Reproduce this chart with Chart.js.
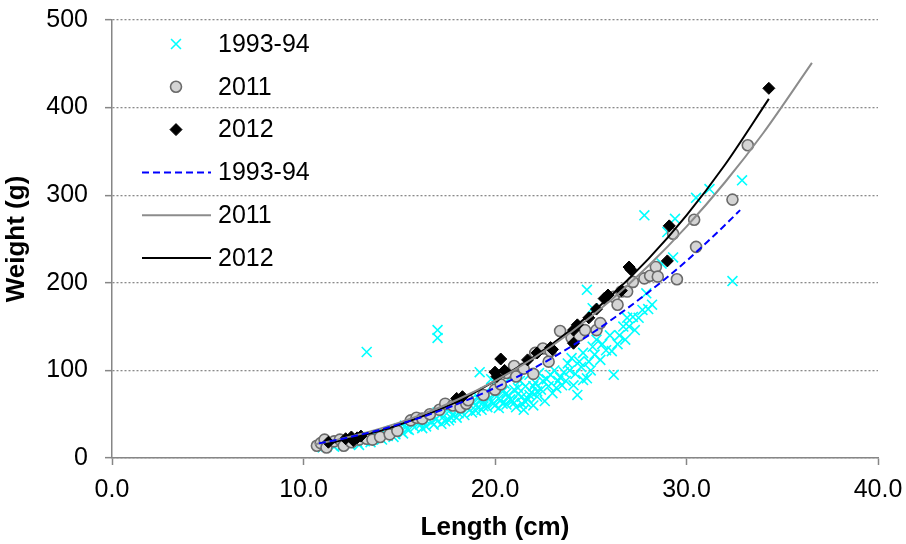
<!DOCTYPE html>
<html>
<head>
<meta charset="utf-8">
<script src="https://cdn.jsdelivr.net/npm/chart.js"></script>
<style>
  html, body { margin: 0; padding: 0; background: #fff; }
  #wrap { width: 906px; height: 544px; }
</style>
</head>
<body>
<div id="wrap"><canvas id="myChart" width="906" height="544"></canvas></div>
<script>
// Length-weight data

// 1993-94 samples (cyan crosses)
const len9394 = [
  11.0, 11.2, 11.5, 11.6, 11.8, 12.0, 12.1, 12.2, 12.4, 12.6, 12.8, 12.9, 13.0, 13.2, 13.4, 13.5, 13.6, 13.8, 14.0, 14.1,
  14.2, 14.4, 14.6, 14.7, 14.8, 15.0, 15.1, 15.2, 15.3, 15.4, 15.5, 15.6, 15.8, 16.0, 16.1, 16.2, 16.3, 16.4, 16.6, 16.7,
  16.8, 16.9, 17.0, 17.2, 17.3, 17.4, 17.5, 17.6, 17.7, 17.8, 17.9, 18.0, 18.1, 18.2, 18.3, 18.4, 18.5, 18.6, 18.7, 18.8,
  18.9, 19.0, 19.0, 19.1, 19.2, 19.2, 19.3, 19.4, 19.4, 19.5, 19.6, 19.6, 19.7, 19.8, 19.8, 19.9, 20.0, 20.0, 20.1, 20.2,
  20.2, 20.3, 20.4, 20.4, 20.5, 20.6, 20.6, 20.7, 20.8, 20.8, 20.9, 21.0, 21.0, 21.1, 21.2, 21.2, 21.3, 21.4, 21.4, 21.5,
  21.6, 21.6, 21.7, 21.8, 21.8, 21.9, 22.0, 22.0, 22.1, 22.2, 22.2, 22.3, 22.4, 22.5, 22.6, 22.7, 22.8, 22.9, 23.0, 23.1,
  23.2, 23.3, 23.4, 23.5, 23.6, 23.7, 23.8, 23.9, 24.0, 24.1, 24.2, 24.3, 24.4, 24.5, 24.6, 24.6, 24.8, 24.8, 24.9, 25.0,
  25.1, 25.1, 25.2, 25.3, 25.5, 25.6, 25.8, 26.0, 26.1, 26.2, 26.4, 26.5, 26.7, 26.8, 26.9, 27.0, 27.2, 27.3, 27.5, 27.7,
  27.8, 27.9, 28.0, 28.2, 28.7, 29.0, 29.3, 29.4, 30.5, 31.2, 32.4, 32.9, 13.3, 17.0, 17.0
];
const wt9394 = [
  12, 13, 15, 13, 17, 14, 16, 19, 16, 21, 18, 15, 22, 19, 24, 18, 21, 26, 23, 21,
  28, 25, 31, 24, 27, 34, 30, 28, 37, 33, 32, 40, 35, 42, 38, 34, 45, 36, 48, 41,
  38, 44, 52, 39, 47, 42, 55, 43, 46, 50, 58, 46, 51, 54, 62, 49, 58, 57, 66, 52,
  63, 60, 54, 70, 98, 66, 55, 64, 59, 75, 58, 72, 68, 90, 64, 62, 72, 60, 80, 57,
  68, 66, 76, 62, 85, 61, 74, 70, 92, 67, 65, 78, 63, 58, 73, 80, 88, 62, 70, 55,
  82, 64, 68, 95, 72, 75, 60, 82, 86, 70, 76, 97, 78, 88, 65, 90, 82, 95, 74, 100,
  80, 88, 92, 83, 98, 88, 108, 100, 114, 83, 96, 72, 110, 104, 120, 89, 91, 192, 110, 100,
  127, 171, 118, 135, 112, 130, 123, 140, 122, 95, 130, 140, 150, 135, 160, 150, 161, 146, 160, 169,
  277, 188, 170, 175, 222, 258, 229, 273, 297, 307, 202, 317, 121, 146, 137
];

// 2011 samples (grey circles)
const len2011 = [
  10.7, 10.9, 11.1, 11.2, 11.6, 11.9, 12.1, 12.5, 12.9, 13.3, 13.6, 14.0, 14.5, 14.9, 15.6, 15.9, 16.2, 16.6, 17.1, 17.4,
  17.8, 18.2, 18.5, 18.6, 19.4, 20.0, 20.3, 20.6, 21.0, 21.1, 21.5, 22.0, 22.1, 22.5, 22.8, 22.9, 23.4, 24.0, 24.4, 24.7,
  25.3, 25.5, 26.2, 26.4, 26.6, 26.9, 27.2, 27.8, 28.1, 28.4, 28.5, 29.3, 29.5, 30.4, 30.5, 32.4, 33.2
];
const wt2011 = [
  14, 17, 21, 12, 19, 21, 14, 18, 21, 22, 21, 24, 27, 31, 43, 46, 45, 50, 55, 62,
  60, 58, 62, 66, 72, 78, 84, 97, 105, 93, 102, 96, 120, 125, 110, 122, 145, 137, 140, 146,
  146, 154, 184, 175, 190, 190, 201, 205, 208, 218, 207, 256, 204, 272, 241, 295, 357
];

// 2012 samples (black diamonds)
const len2012 = [
  11.3, 12.2, 12.5, 12.6, 12.8, 13.0, 18.0, 18.3, 20.0, 20.1, 20.3, 20.5, 21.7, 22.2, 22.9, 23.0, 24.1, 24.1, 24.3, 24.9,
  25.3, 25.7, 25.9, 26.6, 27.0, 27.1, 29.0, 29.1, 34.3
];
const wt2012 = [
  18, 22, 24, 20, 23, 25, 68, 70, 98, 93, 113, 100, 112, 120, 126, 124, 131, 146, 152, 160,
  170, 182, 186, 191, 218, 215, 225, 265, 422
];

// fitted curves, values
const fitLen9394 = [10.8, 12, 14, 16, 18, 20, 22, 24, 26, 28, 30, 32, 32.8];
const fitWt9394 = [16.7, 21.8, 32.3, 45.4, 61.3, 80.1, 102.2, 127.6, 156.5, 189, 225, 265.7, 283];
const fitLen2011 = [10.6, 12, 14, 16, 18, 20, 22, 24, 26, 28, 30, 32, 34, 36.55];
const fitWt2011 = [15.7, 22.1, 33.5, 48.1, 66.2, 88, 113.9, 144.2, 179.2, 219.1, 264.1, 314.5, 370.7, 451];
const fitLen2012 = [11.2, 12, 14, 16, 18, 20, 22, 24, 26, 28, 30, 32, 34.3];
const fitWt2012 = [15.4, 20.5, 31, 46, 64, 88, 115, 147, 184, 227, 277, 334.5, 410];

const xTicks = [0, 10, 20, 30, 40];
const yTicks = [0, 100, 200, 300, 400, 500];

function pts(xs, ys) {
  return xs.map((x, i) => ({ x: x, y: ys[i] }));
}

const FONT = '"Liberation Sans", Arial, sans-serif';
const AXIS_GREY = '#868686';

// legend drawn inside the plot, top left
const insideLegend = {
  id: 'insideLegend',
  afterDraw(chart) {
    const ctx = chart.ctx;
    ctx.save();
    ctx.font = '25px ' + FONT;
    ctx.textBaseline = 'middle';
    chart.data.datasets.forEach((ds, i) => {
      const y = 44 + i * 42.8;
      if (ds.showLine) {
        ctx.strokeStyle = ds.borderColor;
        ctx.lineWidth = ds.borderWidth;
        ctx.setLineDash(ds.borderDash || []);
        ctx.beginPath();
        ctx.moveTo(142, y);
        ctx.lineTo(211, y);
        ctx.stroke();
        ctx.setLineDash([]);
      } else {
        ctx.fillStyle = ds.backgroundColor;
        ctx.strokeStyle = ds.borderColor;
        ctx.lineWidth = ds.borderWidth;
        Chart.helpers.drawPoint(ctx, {
          pointStyle: ds.pointStyle,
          radius: ds.pointRadius,
          borderWidth: ds.borderWidth,
          rotation: 0
        }, 176, y);
      }
      ctx.fillStyle = '#000';
      ctx.fillText(ds.label, 218, y + 1);
    });
    ctx.restore();
  }
};

const ctx = document.getElementById('myChart').getContext('2d');
const myChart = new Chart(ctx, {
  type: 'scatter',
  data: {
    datasets: [
      {
        label: '1993-94',
        data: pts(len9394, wt9394),
        pointStyle: 'crossRot',
        pointRadius: 7,
        borderColor: '#00ffff',
        backgroundColor: '#00ffff',
        borderWidth: 1.6,
        order: 3
      },
      {
        label: '2011',
        data: pts(len2011, wt2011),
        pointStyle: 'circle',
        pointRadius: 5.5,
        borderColor: '#6b6b6b',
        backgroundColor: '#d4d4d4',
        borderWidth: 1.6,
        order: 2
      },
      {
        label: '2012',
        data: pts(len2012, wt2012),
        pointStyle: 'rectRot',
        pointRadius: 6,
        borderColor: '#000',
        backgroundColor: '#000',
        borderWidth: 1,
        order: 1
      },
      {
        label: '1993-94',
        data: pts(fitLen9394, fitWt9394),
        showLine: true,
        pointRadius: 0,
        borderColor: '#0000ff',
        borderWidth: 2,
        borderDash: [7, 4],
        cubicInterpolationMode: 'monotone',
        order: 0
      },
      {
        label: '2011',
        data: pts(fitLen2011, fitWt2011),
        showLine: true,
        pointRadius: 0,
        borderColor: '#8c8c8c',
        borderWidth: 2,
        cubicInterpolationMode: 'monotone',
        order: 0
      },
      {
        label: '2012',
        data: pts(fitLen2012, fitWt2012),
        showLine: true,
        pointRadius: 0,
        borderColor: '#000',
        borderWidth: 2,
        cubicInterpolationMode: 'monotone',
        order: 0
      }
    ]
  },
  options: {
    responsive: false,
    animation: false,
    devicePixelRatio: 1,
    layout: { padding: { top: 20, right: 28, bottom: 0, left: 0 } },
    plugins: {
      legend: { display: false },
      tooltip: { enabled: false }
    },
    scales: {
      x: {
        type: 'linear',
        min: xTicks[0],
        max: xTicks[xTicks.length - 1],
        afterBuildTicks: s => { s.ticks = xTicks.map(v => ({ value: v })); },
        afterFit: s => {
          s.height = 86;
          s.paddingLeft = 0;
          s.paddingRight = 0;
        },
        ticks: {
          padding: 10,
          color: '#000',
          font: { family: FONT, size: 25 },
          callback: v => v.toFixed(1)
        },
        grid: {
          drawOnChartArea: false,
          drawTicks: true,
          tickLength: 7,
          tickColor: AXIS_GREY,
          tickWidth: 1.5
        },
        border: { color: AXIS_GREY, width: 1.5 },
        title: {
          display: true,
          text: 'Length (cm)',
          color: '#000',
          font: { family: FONT, size: 26, weight: 'bold' },
          padding: { top: 0, bottom: 1 }
        }
      },
      y: {
        type: 'linear',
        min: yTicks[0],
        max: yTicks[yTicks.length - 1],
        afterBuildTicks: s => { s.ticks = yTicks.map(v => ({ value: v })); },
        afterFit: s => {
          s.width = 112;
          s.paddingTop = 0;
          s.paddingBottom = 0;
        },
        ticks: {
          padding: 17,
          color: '#000',
          font: { family: FONT, size: 25 }
        },
        grid: {
          color: '#8a8a8a',
          lineWidth: 1.3,
          tickLength: 7,
          tickColor: AXIS_GREY,
          tickWidth: 1.5,
          tickBorderDash: []
        },
        border: { color: AXIS_GREY, width: 1.5, dash: [2, 2] },
        title: {
          display: true,
          text: 'Weight (g)',
          color: '#000',
          font: { family: FONT, size: 26, weight: 'bold' },
          padding: { top: 1, bottom: 0 }
        }
      }
    }
  },
  plugins: [insideLegend]
});
</script>
</body>
</html>
